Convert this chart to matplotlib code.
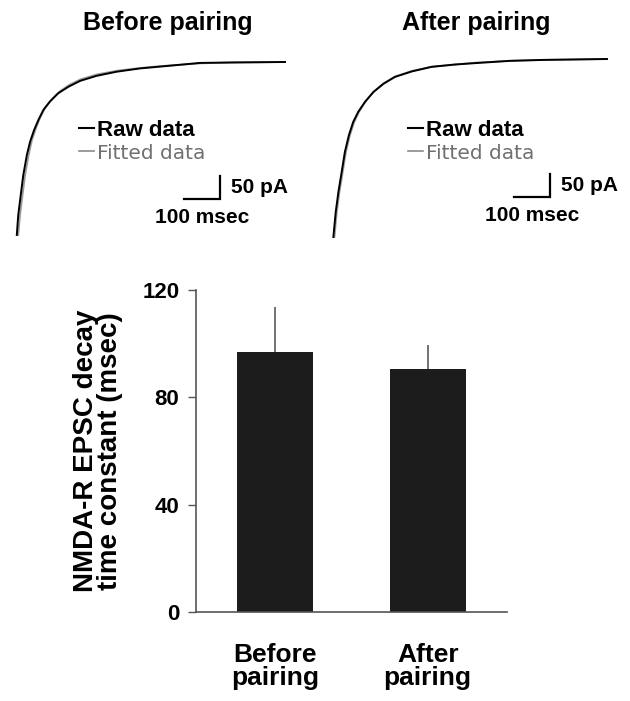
import numpy as np
import matplotlib.pyplot as plt
from matplotlib.lines import Line2D

plt.rcParams['font.family'] = ['Liberation Sans', 'DejaVu Sans']

# example NMDA-R EPSC decays (time in msec, current in pA)
before_t = [5, 9, 16, 23, 33, 42, 53, 65, 79, 97, 120, 148, 181, 227, 283, 347,
            403, 514, 606, 750]
before_raw = [-376, -333, -289, -246, -202, -173, -148, -126, -104, -86, -68, -54,
              -41, -30, -21, -14, -10, -2, -1, 0]
before_fit_t = [9, 14, 21, 28, 38, 47, 58, 70, 84, 102, 124, 150, 181, 227, 283,
                347, 403, 514, 606, 750]
before_fit = [-376, -333, -289, -246, -202, -170, -144, -121, -99, -81, -64, -50,
              -38, -27, -19, -13, -9, -3, -1, 0]

after_t = [1, 7.5, 15, 24, 33, 44, 56, 70, 89, 112, 140, 172, 219, 274, 339, 394,
           492, 583, 761]
after_raw = [-387, -333, -289, -246, -202, -166, -137, -115, -93, -72, -54, -39,
             -27, -17, -12, -9, -4, -2, 0]
after_fit_t = [4, 10.5, 18, 27, 36, 47, 59, 73, 91, 113, 140, 172, 219, 274, 339,
               394, 492, 583, 761]
after_fit = [-387, -333, -289, -246, -202, -166, -137, -114, -92, -71, -53, -38,
             -26, -17, -12, -8, -4, -2, 0]

# group data: decay time constant
groups = ['Before\npairing', 'After\npairing']
tau_mean = [96.8, 90.4]
tau_err = [17.0, 9.0]

fig = plt.figure(figsize=(6.3, 7.01), dpi=100)
W, H = 630, 701


def px_axes(x0, y0, x1, y1):
    # axes placed in pixel coordinates (top-left origin)
    return fig.add_axes([x0 / W, (H - y1) / H, (x1 - x0) / W, (y1 - y0) / H])


ms_per_px = 100 / 36.0
pa_per_px = 50 / 23.0


def trace_panel(x0, t0_px, base_px, t, raw, fit_t, fit, title, title_x, bar_px,
                leg_px):
    ax = px_axes(x0, 40, x0 + 300, 250)
    ax.set_xlim(-(t0_px - x0) * ms_per_px, (x0 + 300 - t0_px) * ms_per_px)
    ax.set_ylim(-(250 - base_px) * pa_per_px, (base_px - 40) * pa_per_px)
    ax.axis('off')
    ax.plot(fit_t, fit, color='#9a9a9a', lw=1.3)
    ax.plot(t, raw, color='black', lw=1.4)

    # scale bar: 100 msec x 50 pA
    sx = (bar_px[0] - t0_px) * ms_per_px
    sy = -(bar_px[1] - base_px) * pa_per_px
    ax.plot([sx, sx + 100, sx + 100], [sy, sy, sy + 50], color='black', lw=1.6,
            solid_joinstyle='miter')
    ax.text(sx + 100 + 11 * ms_per_px, sy + 25, '50 pA', fontsize=15,
            fontweight='bold', ha='left', va='center')
    ax.text(sx + 50, sy - 9 * pa_per_px, '100 msec', fontsize=15,
            fontweight='bold', ha='center', va='top')

    handles = [Line2D([], [], color='black', lw=1.5),
               Line2D([], [], color='#8a8a8a', lw=1.2)]
    leg = ax.legend(handles, ['Raw data', 'Fitted data'], frameon=False,
                    loc='upper left',
                    bbox_to_anchor=((leg_px[0] - x0) / 300, 1 - (leg_px[1] - 40) / 210),
                    handlelength=0.7, handletextpad=0.1, labelspacing=0.12,
                    borderaxespad=0, prop={'size': 16})
    txt = leg.get_texts()
    txt[0].set_fontweight('bold')
    txt[1].set_color('#707070')
    txt[1].set_family('DejaVu Sans')
    txt[1].set_fontsize(14.5)

    fig.text(title_x / W, 1 - 23 / H, title, fontsize=18, fontweight='bold',
             ha='center', va='center')


trace_panel(10, 15, 62, before_t, before_raw, before_fit_t, before_fit,
            'Before pairing', 168, (184, 199), (70, 111))
trace_panel(325, 333, 59, after_t, after_raw, after_fit_t, after_fit,
            'After pairing', 476, (514, 197), (399, 111))

# bar chart of decay time constants
ax = px_axes(196, 290, 507, 612)
x = np.arange(len(groups))
ax.bar(x, tau_mean, width=0.5, color='#1c1c1c', zorder=2)
ax.errorbar(x, tau_mean, yerr=[np.zeros(len(x)), tau_err], fmt='none',
            ecolor='#5a5a5a', elinewidth=1.2, capsize=0, zorder=1)
ax.set_xlim(-0.52, 1.52)
ax.set_ylim(0, 120)
ax.set_yticks([0, 40, 80, 120])
ax.set_xticks(x)
ax.set_xticklabels(groups, fontsize=19, fontweight='bold', linespacing=0.95)
for lab in ax.get_yticklabels():
    lab.set_fontweight('bold')
    lab.set_fontsize(16)
ax.tick_params(axis='y', length=6, width=1, color='#555555', pad=6)
ax.tick_params(axis='x', length=0, pad=22)
for s in ['top', 'right']:
    ax.spines[s].set_visible(False)
for s in ['left', 'bottom']:
    ax.spines[s].set_color('#555555')
    ax.spines[s].set_linewidth(1.2)
ax.set_ylabel('NMDA-R EPSC decay\ntime constant (msec)', fontsize=20,
              fontweight='bold', linespacing=0.88, labelpad=14)

fig.savefig('out.png', dpi=100)
